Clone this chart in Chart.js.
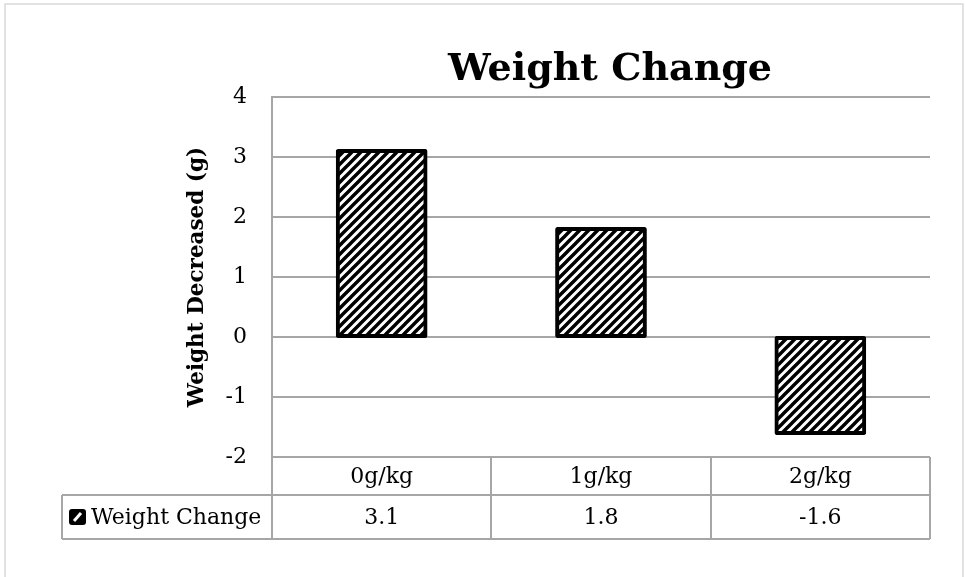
<!DOCTYPE html>
<html>
<head>
<meta charset="utf-8">
<script src="https://cdn.jsdelivr.net/npm/chart.js@4"></script>
<style>
  html, body { margin: 0; padding: 0; background: #fff; }
  #wrap { width: 965px; height: 577px; position: relative; }
</style>
</head>
<body>
<div id="wrap"><canvas id="weightChart" width="965" height="577"></canvas></div>
<script>
const categories = ['0g/kg', '1g/kg', '2g/kg'];
const weightChange = [3.1, 1.8, -1.6];
const seriesName = 'Weight Change';
const chartTitle = 'Weight Change';
const yTitle = 'Weight Decreased (g)';
const yMin = -2, yMax = 4, yStep = 1;

const gridColor = '#a6a6a6';
const textFont = "'DejaVu Serif', serif";

// diagonal hatch fill like the Excel pattern
function makeHatch() {
  const s = 9;
  const c = document.createElement('canvas');
  c.width = s; c.height = s;
  const p = c.getContext('2d');
  p.fillStyle = '#fff';
  p.fillRect(0, 0, s, s);
  p.strokeStyle = '#000';
  p.lineWidth = 3.4;
  p.beginPath();
  p.moveTo(-2, s + 2); p.lineTo(s + 2, -2);
  p.moveTo(-2, 2); p.lineTo(2, -2);
  p.moveTo(s - 2, s + 2); p.lineTo(s + 2, s - 2);
  p.stroke();
  return p.createPattern(c, 'repeat');
}

const ctx = document.getElementById('weightChart').getContext('2d');
const hatch = makeHatch();

const tablePlugin = {
  id: 'dataTable',
  afterDraw(chart) {
    const c = chart.ctx;
    const area = chart.chartArea;
    const x = chart.scales.x;
    const colW = (area.right - area.left) / categories.length;
    const rowTop = area.bottom;
    const rowMid = rowTop + 38;
    const rowBot = rowMid + 44;
    const labelLeft = 62;

    c.save();
    // outer chart border
    c.strokeStyle = '#d9d9d9';
    c.lineWidth = 1.5;
    c.strokeRect(5, 4, 958, 620);

    // title, centred over the plot area
    c.fillStyle = '#000';
    c.font = "bold 38px 'DejaVu Serif', serif";
    c.textAlign = 'center';
    c.textBaseline = 'alphabetic';
    c.fillText(chartTitle, (area.left + area.right) / 2 + 9, 80);

    // table grid
    c.strokeStyle = gridColor;
    c.lineWidth = 2;
    c.beginPath();
    c.moveTo(area.left, rowTop); c.lineTo(area.right, rowTop);
    c.moveTo(labelLeft, rowMid); c.lineTo(area.right, rowMid);
    c.moveTo(labelLeft, rowBot); c.lineTo(area.right, rowBot);
    c.moveTo(labelLeft, rowMid); c.lineTo(labelLeft, rowBot);
    for (let i = 0; i <= categories.length; i++) {
      const px = Math.round(area.left + i * colW);
      c.moveTo(px, rowTop); c.lineTo(px, rowBot);
    }
    c.stroke();

    // category row and value row
    c.fillStyle = '#000';
    c.font = "22px " + textFont;
    c.textAlign = 'center';
    c.textBaseline = 'middle';
    categories.forEach((cat, i) => {
      const cx = x.getPixelForValue(i);
      c.fillText(cat, cx, (rowTop + rowMid) / 2 + 1);
      c.fillText(String(weightChange[i]), cx, (rowMid + rowBot) / 2 + 1);
    });

    // legend key + series name
    const kx = 69, ky = (rowMid + rowBot) / 2 - 8;
    c.fillStyle = '#000';
    c.beginPath();
    c.roundRect(kx, ky, 17, 16, 3);
    c.fill();
    c.strokeStyle = '#fff';
    c.lineWidth = 3;
    c.beginPath();
    c.moveTo(kx + 5, ky + 12); c.lineTo(kx + 12, ky + 4);
    c.stroke();
    c.fillStyle = '#000';
    c.textAlign = 'left';
    c.fillText(seriesName, kx + 22, (rowMid + rowBot) / 2 + 1);
    c.restore();
  }
};

new Chart(ctx, {
  type: 'bar',
  data: {
    labels: categories,
    datasets: [{
      label: seriesName,
      data: weightChange,
      backgroundColor: hatch,
      borderColor: '#000',
      borderWidth: 4,
      borderRadius: 2,
      borderSkipped: false,
      inflateAmount: 2,
      categoryPercentage: 1,
      barPercentage: 0.4
    }]
  },
  options: {
    responsive: false,
    animation: false,
    layout: { padding: { top: 97, right: 35, bottom: 120, left: 0 } },
    plugins: {
      legend: { display: false },
      title: { display: false },
      tooltip: { enabled: false }
    },
    scales: {
      x: {
        display: false
      },
      y: {
        min: yMin,
        max: yMax,
        afterFit(scale) { scale.width = 272; },
        ticks: {
          stepSize: yStep,
          padding: 25,
          color: '#000',
          font: { family: textFont, size: 22 }
        },
        grid: { color: gridColor, lineWidth: 2, drawTicks: false },
        border: { display: true, color: gridColor, width: 2 },
        title: {
          display: true,
          text: yTitle,
          color: '#000',
          font: { family: textFont, size: 21.5, weight: 'bold' },
          padding: { top: 185, bottom: 0 }
        }
      }
    }
  },
  plugins: [tablePlugin]
});
</script>
</body>
</html>
